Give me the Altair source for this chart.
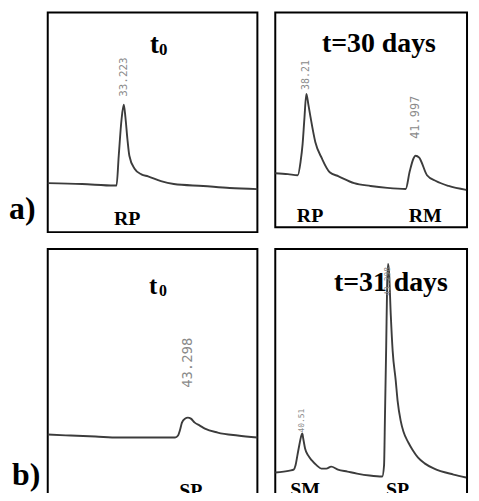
import altair as alt
import pandas as pd

# ---- data (retention time in min, signal in % of panel height)
a0_t = [30.50, 31.73, 32.89, 32.96, 33.04, 33.14, 33.22, 33.28, 33.35, 33.42, 33.60, 33.85, 34.09, 34.55, 35.01, 36.06, 37.01, 38.00]
a0_s = [22.3, 21.9, 21.2, 21.2, 34.8, 51.3, 58.0, 52.2, 42.4, 34.8, 29.0, 26.3, 25.4, 23.2, 21.9, 21.0, 20.1, 19.6]

a30_t = [37.13, 37.57, 37.91, 38.01, 38.08, 38.14, 38.21, 38.28, 38.35, 38.52, 38.75, 39.02, 39.33, 39.87, 40.44, 41.02, 41.66,
         41.80, 41.93, 42.00, 42.13, 42.20, 42.40, 42.71, 43.15, 43.76]
a30_s = [25.1, 24.7, 24.2, 30.6, 38.8, 50.2, 62.1, 57.1, 51.6, 39.7, 32.0, 25.6, 23.7, 20.5, 19.2, 18.3, 17.8,
         26.0, 32.0, 33.3, 32.4, 30.6, 24.2, 21.5, 19.2, 17.4]

b0_t = [38.60, 39.37, 40.20, 40.97, 41.87, 42.87, 42.97, 43.03, 43.10, 43.20, 43.30, 43.40, 43.53, 43.70, 43.87, 44.30, 44.97, 45.63]
b0_s = [25.3, 24.9, 24.5, 24.1, 24.1, 24.1, 24.9, 26.9, 30.1, 31.7, 32.1, 31.7, 30.1, 28.9, 27.7, 26.1, 24.9, 24.1]

b31_t = [39.63, 40.10, 40.23, 40.29, 40.35, 40.41, 40.48, 40.51, 40.54, 40.60, 40.70, 40.82, 40.98, 41.13, 41.29, 41.45,
         41.67, 41.98, 42.29, 42.70, 43.11, 43.17, 43.20, 43.24, 43.27, 43.30, 43.33, 43.39, 43.45, 43.55, 43.61,
         43.71, 43.80, 43.96, 44.11, 44.27, 44.49, 44.80, 45.43, 45.84]
b31_s = [10.0, 10.8, 11.2, 12.9, 16.9, 20.9, 24.9, 25.7, 23.7, 19.7, 16.9, 14.9, 12.9, 11.6, 11.6, 12.4,
         11.2, 10.4, 9.6, 8.8, 8.4, 12.9, 32.9, 61.0, 85.1, 94.0, 91.2, 73.1, 59.0, 47.0, 39.0,
         30.9, 26.5, 22.1, 18.9, 16.1, 13.7, 11.6, 9.2, 8.0]

# peak labels
a0_peaks = ["33.223"]
a30_peaks = ["38.21", "41.997"]
b0_peaks = ["43.298"]
b31_peaks = ["40.51", "43.298"]

LINE = "#3c3c3c"
SERIF = "Liberation Serif"
MONO = "DejaVu Sans Mono"
BOX = alt.ViewBackground(stroke="black", strokeWidth=2, fill="white")


def scales(xdom):
    return (alt.Scale(domain=xdom, nice=False, zero=False),
            alt.Scale(domain=[0, 100], nice=False, zero=False))


def curve(t, s, xdom):
    xs, ys = scales(xdom)
    df = pd.DataFrame({"t": t, "s": s})
    return alt.Chart(df).mark_line(color=LINE, strokeWidth=1.9, interpolate="monotone").encode(
        x=alt.X("t:Q", scale=xs, axis=None),
        y=alt.Y("s:Q", scale=ys, axis=None),
    )


def peak_label(t, s, label, xdom, dx, size):
    xs, ys = scales(xdom)
    df = pd.DataFrame({"t": [t], "s": [s], "lab": [label]})
    return alt.Chart(df).mark_text(angle=270, align="left", baseline="middle", dx=dx,
                                   font=MONO, fontSize=size, color="#8a8a8a").encode(
        x=alt.X("t:Q", scale=xs, axis=None),
        y=alt.Y("s:Q", scale=ys, axis=None),
        text="lab:N",
    )


def note(txt, x, y, size, align="left", clip=False):
    df = pd.DataFrame({"txt": [txt]})
    return alt.Chart(df).mark_text(font=SERIF, fontWeight="bold", fontSize=size, color="black",
                                   align=align, baseline="alphabetic", clip=clip).encode(
        x=alt.value(x), y=alt.value(y), text="txt:N")


# ---- panel a, t0
dA0 = [30.5, 38.0]
A0 = alt.layer(
    curve(a0_t, a0_s, dA0),
    peak_label(33.22, 58.0, a0_peaks[0], dA0, 8, 11),
    note("t", 103, 41, 27),
    note("0", 112, 43, 17),
    note("RP", 80, 214, 20, align="center"),
    note("a)", -39, 208, 32),
).properties(width=211, height=221, view=BOX)

# ---- panel a, 30 days
dA30 = [37.13, 43.79]
A30 = alt.layer(
    curve(a30_t, a30_s, dA30),
    peak_label(38.21, 62.1, a30_peaks[0], dA30, 4, 10),
    peak_label(42.00, 33.3, a30_peaks[1], dA30, 17, 12),
    note("t=30 days", 47, 40, 28),
    note("RP", 35, 211, 20, align="center"),
    note("RM", 151, 211, 20, align="center"),
).properties(width=193, height=216, view=BOX)

# ---- panel b, t0
dB0 = [38.60, 45.63]
B0 = alt.layer(
    curve(b0_t, b0_s, dB0),
    peak_label(43.30, 32.1, b0_peaks[0], dB0, 30, 14),
    note("t", 102, 45, 25),
    note("0", 112, 47, 16),
    note("SP", 144, 250, 20, align="center", clip=True),
    note("b)", -36, 238, 32),
).properties(width=211, height=250, view=BOX)

# ---- panel b, 31 days
dB31 = [39.63, 45.87]
B31 = alt.layer(
    curve(b31_t, b31_s, dB31),
    peak_label(40.51, 25.7, b31_peaks[0], dB31, 1, 8),
    note("t=31 days", 59, 42, 28),
    peak_label(43.30, 94.0, b31_peaks[1], dB31, -32, 8),
    note("SM", 30, 249, 20, align="center", clip=True),
    note("SP", 123, 249, 20, align="center", clip=True),
).properties(width=193, height=250, view=BOX)

chart = alt.concat(A0, A30, B0, B31, columns=2, spacing={"row": 17, "column": 18},
                   bounds="flush").properties(
    padding={"left": 0, "top": 2, "right": 0, "bottom": -7},
    background="white",
)

chart.save("out.html", embed_options={"renderer": "svg", "actions": False})
